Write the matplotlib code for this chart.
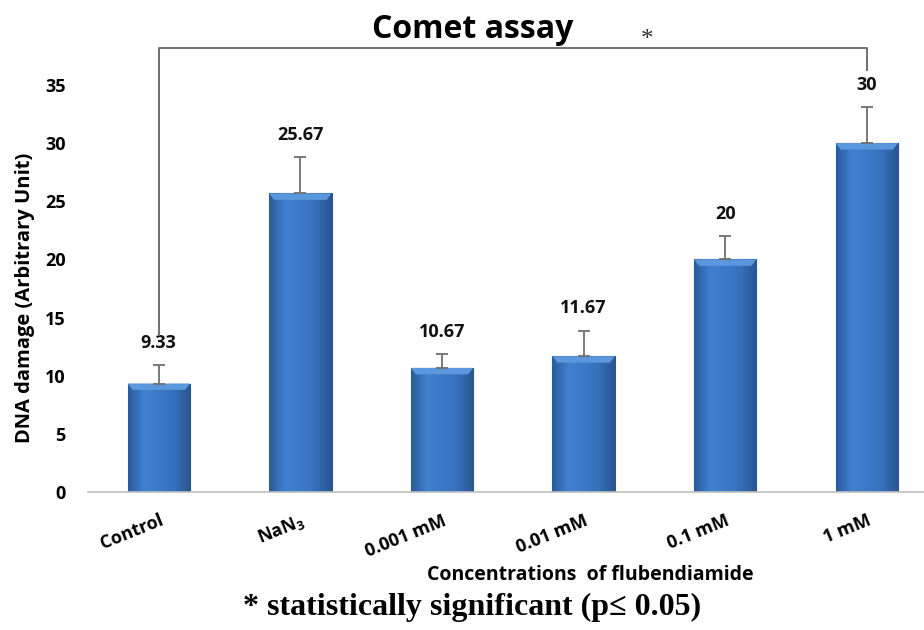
import numpy as np
import matplotlib
matplotlib.use("Agg")
import matplotlib.pyplot as plt
from matplotlib.patches import Polygon
from matplotlib.colors import LinearSegmentedColormap

plt.rcParams['font.family'] = ['Open Sans', 'DejaVu Sans']
plt.rcParams['mathtext.default'] = 'regular'

categories = ["Control", "NaN$_3$", "0.001 mM", "0.01 mM", "0.1 mM", "1 mM"]
values = [9.33, 25.67, 10.67, 11.67, 20, 30]
errors = [1.6, 3.1, 1.2, 2.2, 2.0, 3.1]
value_labels = ["9.33", "25.67", "10.67", "11.67", "20", "30"]
yticks = [0, 5, 10, 15, 20, 25, 30, 35]

fig = plt.figure(figsize=(9.24, 6.3), dpi=100)
ax = fig.add_axes([88 / 924, 1 - 492 / 630, (924 - 88) / 924, (492 - 85) / 630 * (38.5 / 35)])

x = np.arange(len(categories))
width = 0.44
bars = ax.bar(x, values, width, color="#3a76c4", edgecolor="#2a558e", linewidth=0.8, zorder=2)

# horizontal shading across each bar plus a lighter bevelled top
cmap = LinearSegmentedColormap.from_list(
    "barshade", ["#2c5b9a", "#3f80d0", "#3c7ac8", "#3670bb", "#2a5590"])
grad = np.linspace(0, 1, 64).reshape(1, -1)
for b in bars:
    x0, w, h = b.get_x(), b.get_width(), b.get_height()
    im = ax.imshow(grad, cmap=cmap, aspect="auto", extent=[x0, x0 + w, 0, h],
                   zorder=2.1, interpolation="bicubic")
    im.set_clip_path(b)
    bev = 0.55
    top = Polygon([[x0, h], [x0 + w, h], [x0 + w - 0.035, h - bev], [x0 + 0.035, h - bev]],
                  closed=True, facecolor="#5b97dd", edgecolor="none", zorder=2.2)
    ax.add_patch(top)

ax.errorbar(x, values, yerr=[np.zeros(len(values)), errors], fmt="none",
            ecolor="#707070", elinewidth=1.3, capsize=4.5, capthick=1.3, zorder=3)

for xi, v, e, lab in zip(x, values, errors, value_labels):
    ax.annotate(lab, (xi, v + e), xytext=(0, 16), textcoords="offset points",
                ha="center", va="center", fontsize=13, fontweight="bold", color="#111111")

ax.set_xlim(-0.5, (924 - 88) / ((867 - 159) / 5) - 0.5)
ax.set_ylim(0, 38.5)
ax.set_yticks(yticks)
ax.set_yticklabels([str(t) for t in yticks], fontsize=13, fontweight="bold")
ax.set_xticks(x)
ax.set_xticklabels(categories, fontsize=13, fontweight="bold", rotation=22,
                   ha="right", va="top", rotation_mode="anchor")
ax.tick_params(axis="y", length=0, pad=16)
ax.tick_params(axis="x", length=0, pad=14)
for s in ["top", "right", "left"]:
    ax.spines[s].set_visible(False)
ax.spines["bottom"].set_color("#bfbfbf")
ax.spines["bottom"].set_linewidth(1.2)
ax.patch.set_alpha(0)

# significance bracket between Control and 1 mM
ax.plot([0, 0, 5, 5], [13.5, 38.2, 38.2, 36.3], color="#707070", lw=1.4,
        clip_on=False, zorder=3)
ax.text(3.45, 38.9, "*", ha="center", va="center", fontsize=18,
        family="Liberation Serif", color="#333333")

fig.text(473 / 924, 1 - 38 / 630, "Comet assay", ha="center", va="baseline",
         fontsize=23, fontweight="bold")
fig.text(25 / 924, 1 - 298 / 630, "DNA damage (Arbitrary Unit)", rotation=90,
         ha="center", va="center", fontsize=14.5, fontweight="bold")
fig.text(590 / 924, 1 - 575 / 630, "Concentrations  of flubendiamide", ha="center",
         va="center", fontsize=14, fontweight="bold")
fig.text(472 / 924, 1 - 607 / 630, "* statistically significant (p\u2264 0.05)",
         ha="center", va="center", fontsize=23, fontweight="bold",
         family=["Liberation Serif", "DejaVu Serif"])

fig.savefig("out.png", dpi=100)
